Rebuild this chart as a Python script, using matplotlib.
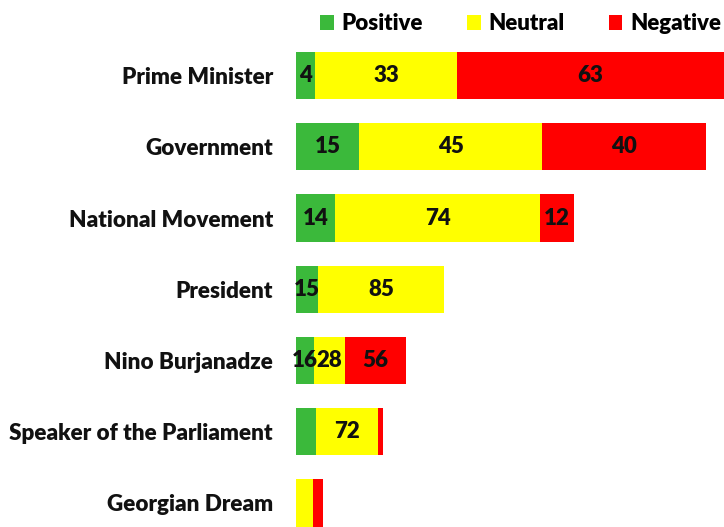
import numpy as np
import matplotlib.pyplot as plt

# media coverage tone by actor (segment sizes = number of mentions, labels = %)
actors = ['Prime Minister', 'Government', 'National Movement', 'President',
          'Nino Burjanadze', 'Speaker of the Parliament', 'Georgian Dream']
positive = [19, 63, 39, 22, 18, 20, 0]
neutral = [142, 183, 205, 126, 31, 62, 17]
negative = [270, 164, 34, 0, 61, 5, 10]

pos_lbl = ['4', '15', '14', '15', '16', '', '']
neu_lbl = ['33', '45', '74', '85', '28', '72', '']
neg_lbl = ['63', '40', '12', '', '56', '', '']

colors = {'Positive': '#3BB93B', 'Neutral': '#FFFF00', 'Negative': '#FF0000'}

plt.rcParams['font.family'] = ['Lato', 'DejaVu Sans']
plt.rcParams['font.weight'] = 'bold'

fig = plt.figure(figsize=(7.24, 5.27), dpi=100)
ax = fig.add_axes([296 / 724, 0, 1 - 296 / 724, 1])

y = np.arange(len(actors))
pos = np.array(positive)
neu = np.array(neutral)
neg = np.array(negative)

b1 = ax.barh(y, pos, height=0.66, color=colors['Positive'], label='Positive')
b2 = ax.barh(y, neu, left=pos, height=0.66, color=colors['Neutral'], label='Neutral')
b3 = ax.barh(y, neg, left=pos + neu, height=0.66, color=colors['Negative'], label='Negative')

for bars, lbl in [(b1, pos_lbl), (b2, neu_lbl), (b3, neg_lbl)]:
    ax.bar_label(bars, labels=lbl, label_type='center', fontsize=16, fontweight='heavy', color='#111111')

ax.set_xlim(0, 428)
ax.set_ylim(6.337, -1.06)
ax.set_yticks(y)
ax.set_yticklabels(actors, fontsize=16.2, fontweight='heavy', color='#111111')
ax.tick_params(axis='y', length=0, pad=16.5)
ax.set_xticks([])
for s in ax.spines.values():
    s.set_visible(False)

fig.legend(handles=[b1, b2, b3], loc='upper left', bbox_to_anchor=(307 / 724, 1.0),
           ncol=3, frameon=False, handlelength=0.6, handleheight=0.6,
           handletextpad=0.35, columnspacing=2.0, borderaxespad=0.2,
           prop={'weight': 'heavy', 'size': 16})

plt.savefig('out.png', dpi=100)
